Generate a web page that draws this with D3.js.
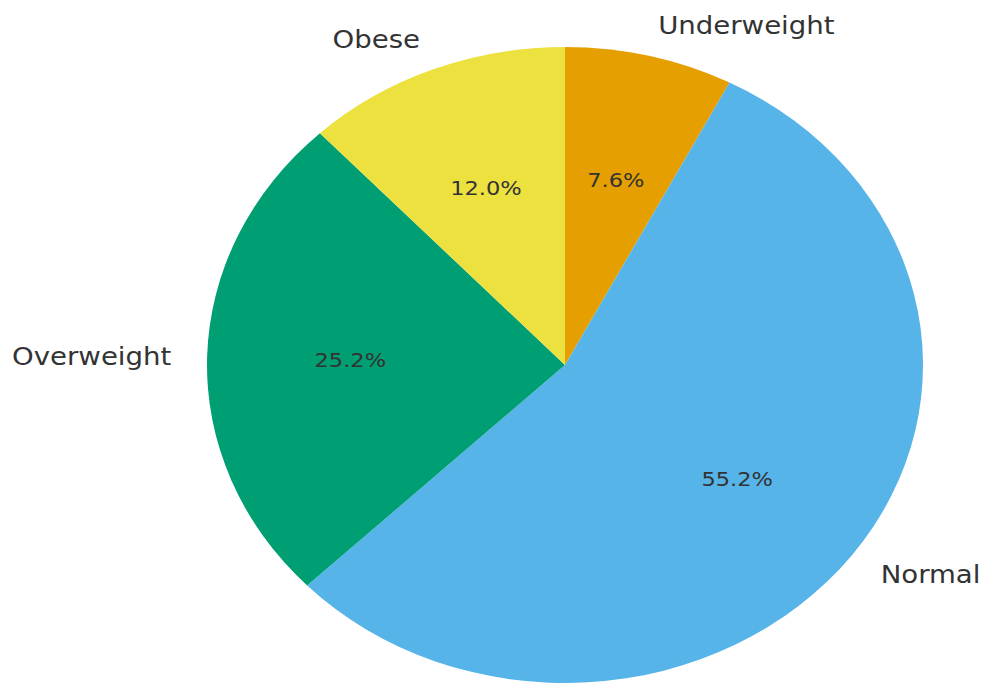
<!DOCTYPE html>
<html>
<head>
<meta charset="utf-8">
<script src="https://cdn.jsdelivr.net/npm/d3@7"></script>
<style>
  html, body { margin: 0; padding: 0; background: #fff; }
  svg { display: block; }
  text { font-family: "DejaVu Sans", sans-serif; fill: #333; }
</style>
</head>
<body>
<svg id="chart" width="985" height="684"></svg>
<script>
const categories = ["Underweight", "Normal", "Overweight", "Obese"];
const values = [7.6, 55.2, 25.2, 12.0];
const colors = ["#E69F00", "#56B4E9", "#009E73", "#EDE13F"];

const W = 985, H = 684;
const cx = 565, cy = 365;
const r = 318;
const sx = 358 / 318;

const svg = d3.select("#chart");
const g = svg.append("g").attr("transform", `translate(${cx},${cy}) scale(${sx},1)`);

const data = categories.map((c, i) => ({ name: c, value: values[i], color: colors[i] }));
const pie = d3.pie().value(d => d.value).sort(null);
const arcs = pie(data);
const arc = d3.arc().innerRadius(0).outerRadius(r);

g.selectAll("path.slice").data(arcs).join("path")
  .attr("class", "slice")
  .attr("d", arc)
  .attr("fill", d => d.data.color);

const total = d3.sum(values);
const fmt = v => (v / total * 100).toFixed(1) + "%";

// percent labels at 0.6 radius
g.selectAll("text.pct").data(arcs).join("text")
  .attr("class", "pct")
  .attr("x", d => 0.6 * r * Math.sin((d.startAngle + d.endAngle) / 2))
  .attr("y", d => -0.6 * r * Math.cos((d.startAngle + d.endAngle) / 2))
  .attr("text-anchor", "middle")
  .attr("dominant-baseline", "central")
  .attr("font-size", 20)
  .text(d => fmt(d.data.value));

// category labels at 1.1 radius
g.selectAll("text.lbl").data(arcs).join("text")
  .attr("class", "lbl")
  .attr("x", d => 1.1 * r * Math.sin((d.startAngle + d.endAngle) / 2))
  .attr("y", d => -1.1 * r * Math.cos((d.startAngle + d.endAngle) / 2))
  .attr("text-anchor", d => Math.sin((d.startAngle + d.endAngle) / 2) > 0 ? "start" : "end")
  .attr("dominant-baseline", "central")
  .attr("font-size", 24.5)
  .text(d => d.data.name);
</script>
</body>
</html>
